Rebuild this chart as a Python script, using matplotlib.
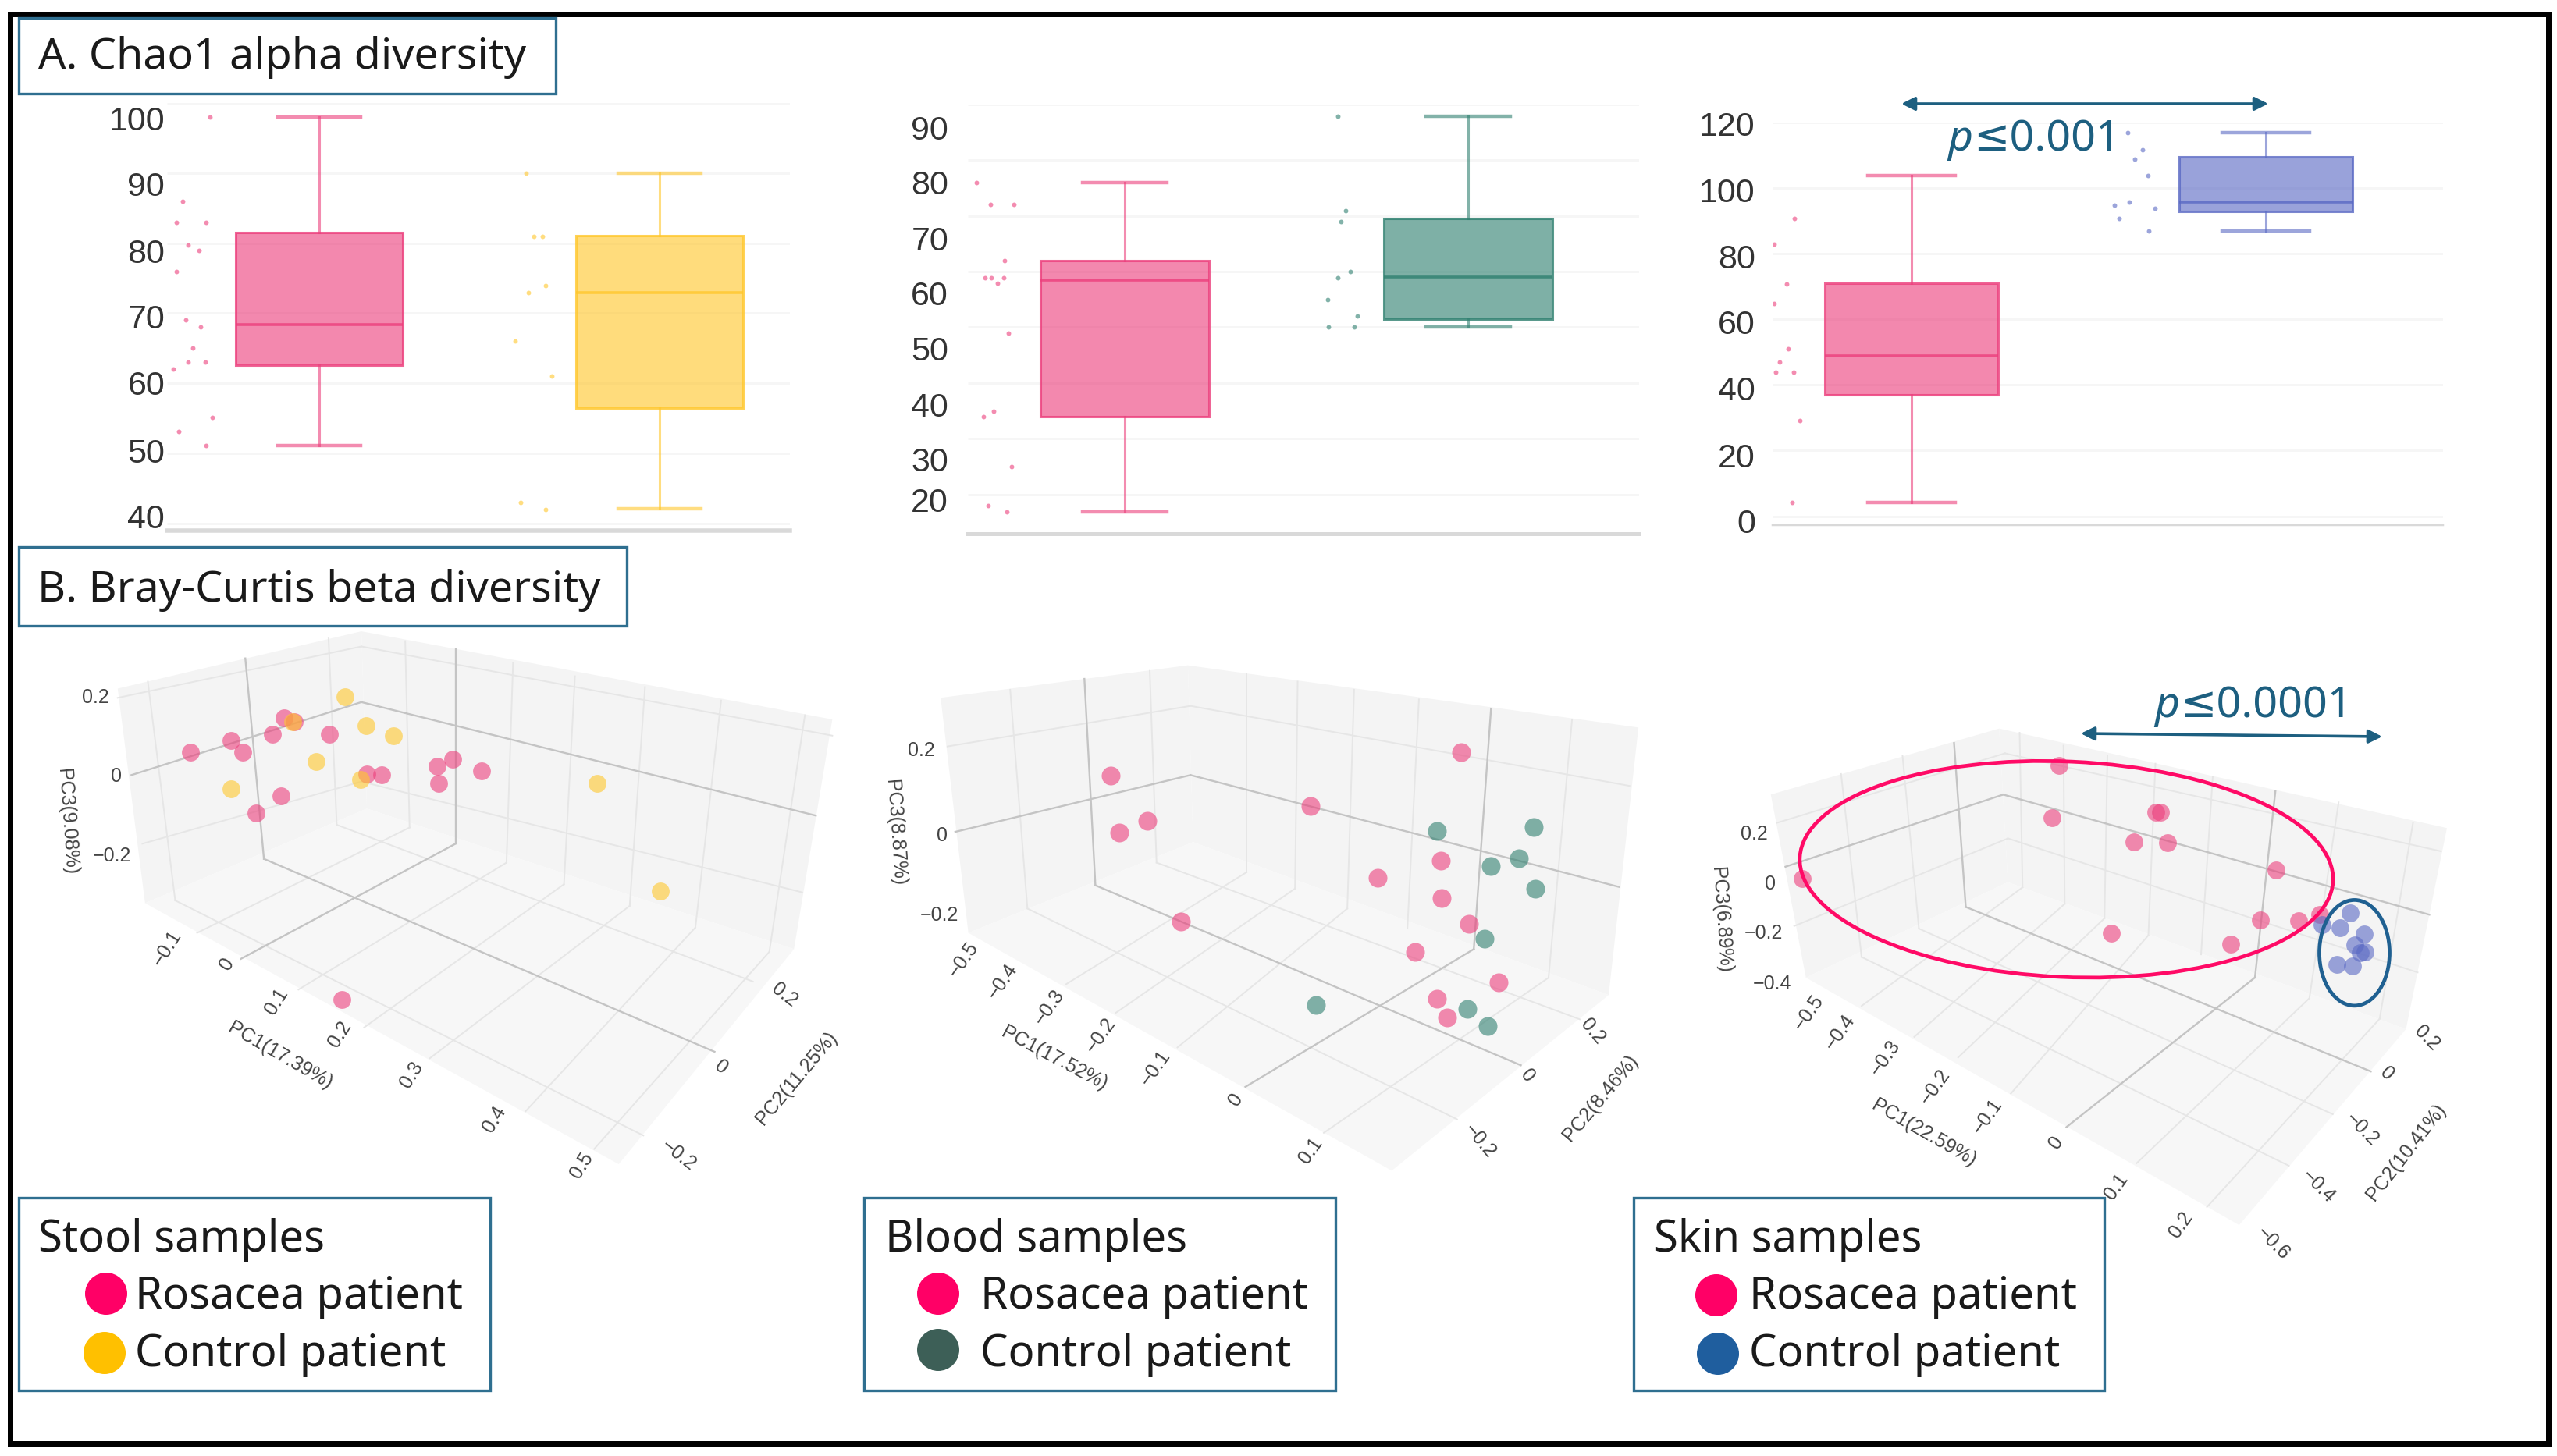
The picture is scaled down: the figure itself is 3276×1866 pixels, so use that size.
import matplotlib
matplotlib.use("Agg")
import matplotlib.pyplot as plt
from matplotlib.colors import to_rgba
from matplotlib.patches import Rectangle, Polygon, Ellipse, Circle

plt.rcParams['font.family'] = ['Noto Sans', 'DejaVu Sans']

W, H = 3276, 1866
PINK, YELLOW, TEAL, BLUE = '#EC3F7C', '#FFC72C', '#2F8070', '#5A69C4'
DARK = '#1D5F80'
BOXLINE = '#2F6F90'

# ---------- A. Chao1 alpha diversity: box statistics (low, q1, median, q3, high) ----------
stool_ros_box = [51.1, 62.6, 68.4, 81.5, 98.0]
stool_ctl_box = [42.1, 56.5, 73.0, 81.1, 90.0]
blood_ros_box = [16.95, 33.9, 58.5, 61.9, 75.9]
blood_ctl_box = [50.0, 51.4, 59.0, 69.5, 87.9]
skin_ros_box = [4.1, 37.1, 48.9, 71.1, 103.8]
skin_ctl_box = [86.9, 93.0, 95.7, 109.6, 116.9]

stool_ros_pts = [98, 86, 83, 83, 79.7, 79, 76, 69, 68, 65, 63, 63, 62, 55.1, 53.1, 51.1]
stool_ros_jit = [-.320, -.401, -.420, -.333, -.386, -.352, -.420, -.391, -.349, -.372, -.385, -.335, -.428, -.315, -.413, -.333]
stool_ctl_pts = [90, 81, 81, 74, 73, 66, 61, 43, 42]
stool_ctl_jit = [.608, .631, .655, .666, .615, .576, .684, .592, .665]
blood_ros_pts = [75.9, 72, 72, 61.9, 58.9, 58.9, 58.9, 57.9, 48.9, 34.9, 33.9, 25, 18, 16.95]
blood_ros_jit = [-.431, -.392, -.322, -.351, -.408, -.388, -.353, -.370, -.338, -.381, -.412, -.330, -.397, -.343]
blood_ctl_pts = [87.9, 70.9, 68.9, 60, 58.9, 54.9, 52, 50, 50]
blood_ctl_jit = [.620, .644, .629, .656, .620, .591, .677, .593, .669]
skin_ros_pts = [90.9, 82.9, 70.9, 64.9, 51, 46.9, 44, 44, 29.2, 4.1]
skin_ros_jit = [-.331, -.387, -.352, -.387, -.348, -.372, -.384, -.333, -.316, -.338]
skin_ctl_pts = [116.9, 111.8, 108.9, 103.8, 94.9, 95.9, 93.9, 90.8, 86.9]
skin_ctl_jit = [.611, .651, .630, .668, .572, .614, .688, .586, .670]

stool_grid = [100, 90, 80, 70, 60, 50, 40]
stool_labels = ['100', '90', '80', '70', '60', '50', '40']
stool_label_pos = [97.8, 88.5, 78.9, 69.5, 60.1, 50.4, 41.1]
blood_grid = [90, 80, 70, 60, 50, 40, 30, 20]
blood_labels = ['90', '80', '70', '60', '50', '40', '30', '20']
blood_label_pos = [85.85, 76, 66, 56.1, 46.2, 36.2, 26.3, 19]
skin_grid = [120, 100, 80, 60, 40, 20, 0]
skin_labels = ['120', '100', '80', '60', '40', '20', '0']
skin_label_pos = [119.7, 99.6, 79.2, 59.3, 39.1, 18.6, -1.4]

# ---------- B. Bray-Curtis beta diversity: projected sample positions per scene ----------
stool_ros_x = [348, 422, 443, 498, 519, 537, 601, 513, 467, 670, 697, 798, 827, 801, 880, 624]
stool_ros_y = [265, 244, 266, 233, 202, 210, 233, 346, 378, 306, 307, 291, 279, 324, 300, 723]
stool_ctl_x = [630, 535, 668, 718, 578, 422, 659, 1090, 1206]
stool_ctl_y = [163, 209, 216, 235, 283, 334, 316, 323, 522]
blood_ros_x = [498, 513, 568, 632, 879, 1008, 1129, 1130, 1182, 1168, 1079, 1239, 1122, 1141]
blood_ros_y = [309, 414, 393, 579, 366, 498, 466, 536, 583, 265, 636, 691, 722, 756]
blood_ctl_x = [1121, 1307, 1278, 1225, 1310, 1213, 1179, 1218, 890]
blood_ctl_y = [412, 404, 462, 477, 519, 611, 741, 773, 733]
skin_ros_x = [717, 705, 883, 891, 845, 903, 1088, 278, 807, 1061, 1127, 1010, 1162]
skin_ros_y = [228, 330, 319, 319, 377, 378, 431, 448, 554, 528, 530, 575, 518]
skin_ctl_x = [1214, 1197, 1238, 1222, 1166, 1240, 1232, 1192, 1218]
skin_ctl_y = [514, 544, 556, 576, 538, 590, 592, 615, 618]

stool_scene = dict(
    rect=(0, 780, 1100, 1086), view=(1568, 1568),
    left=[(215, 148), (660, 42), (670, 370), (265, 545)],
    right=[(660, 42), (1520, 205), (1450, 630), (670, 370)],
    floor=[(265, 545), (670, 370), (1450, 630), (1130, 1028)],
    grid=[((270, 135), (320, 540)), ((600, 55), (615, 400)),
          ((740, 60), (748, 405)), ((937, 100), (925, 470)), ((1050, 125), (1030, 510)),
          ((1178, 145), (1150, 550)), ((1317, 170), (1270, 590)), ((1470, 197), (1405, 635)),
          ((215, 165), (660, 70)), ((660, 70), (1520, 235)), ((260, 435), (660, 320)), ((660, 320), (1465, 525)),
          ((360, 600), (748, 405)), ((545, 705), (925, 470)), ((665, 775), (1030, 510)),
          ((785, 832), (1150, 550)), ((960, 930), (1270, 590)), ((1085, 1000), (1405, 635)),
          ((615, 400), (1375, 690)), ((320, 540), (1175, 975))],
    axes=[((448, 92), (482, 463)), ((482, 463), (1305, 820)), ((832, 75), (832, 435)), ((832, 435), (440, 648)),
          ((240, 308), (660, 173)), ((660, 173), (1490, 383))],
    ticks=['0.2', '0', '\u22120.2', '\u22120.1', '0', '0.1', '0.2', '0.3', '0.4', '0.5', '0.2', '0', '\u22120.2'],
    tick_x=[175, 212, 205, 305, 415, 505, 620, 752, 903, 1062, 1432, 1317, 1240],
    tick_y=[165, 310, 458, 628, 658, 727, 788, 862, 945, 1030, 715, 848, 1012],
    tick_rot=[0, 0, 0, 58, 58, 58, 58, 58, 58, 58, -38, -38, -38],
    names=['PC3(9.08%)', 'PC1(17.39%)', 'PC2(11.25%)'],
    name_x=[122, 512, 1455], name_y=[395, 828, 868], name_rot=[-86, -30, 50],
    size=270, second=YELLOW)

blood_scene = dict(
    rect=(1090, 780, 1050, 1086), view=(1568, 1568),
    left=[(172, 165), (645, 105), (655, 432), (225, 600)],
    right=[(645, 105), (1507, 220), (1450, 715), (655, 432)],
    floor=[(225, 600), (655, 432), (1450, 715), (1035, 1040)],
    grid=[((305, 150), (338, 555)), ((572, 115), (585, 470)),
          ((757, 120), (757, 488)), ((855, 135), (850, 518)), ((963, 150), (950, 555)),
          ((1087, 168), (1065, 592)), ((1380, 205), (1335, 683)),
          ((185, 255), (650, 180)), ((650, 180), (1490, 328)),
          ((412, 695), (757, 488)), ((507, 748), (850, 518)), ((625, 812), (950, 555)),
          ((905, 970), (1335, 683)), ((338, 555), (1160, 945)), ((585, 470), (1395, 760))],
    axes=[((447, 130), (468, 512)), ((1225, 185), (1192, 630)), ((468, 512), (1282, 845)), ((1192, 630), (755, 885)),
          ((200, 413), (650, 308)), ((650, 308), (1470, 515))],
    ticks=['0.2', '0', '\u22120.2', '\u22120.5', '\u22120.4', '\u22120.3', '\u22120.2', '\u22120.1', '0', '0.1', '0.2', '0', '\u22120.2'],
    tick_x=[135, 175, 170, 215, 290, 380, 478, 583, 737, 880, 1420, 1295, 1203],
    tick_y=[263, 420, 568, 650, 690, 738, 790, 850, 908, 1003, 782, 865, 985],
    tick_rot=[0, 0, 0, 55, 55, 55, 55, 55, 55, 55, -50, -50, -50],
    names=['PC3(8.87%)', 'PC1(17.52%)', 'PC2(8.46%)'],
    name_x=[85, 390, 1435], name_y=[415, 832, 905], name_rot=[-86, -28, 50],
    size=300, second=TEAL)

skin_scene = dict(
    rect=(2100, 830, 1176, 1036), view=(1568, 1568),
    left=[(225, 285), (615, 157), (630, 455), (285, 640)],
    right=[(615, 157), (1380, 350), (1310, 740), (630, 455)],
    floor=[(285, 640), (630, 455), (1310, 740), (1025, 1120)],
    grid=[((345, 245), (380, 600)), ((450, 210), (478, 545)),
          ((650, 165), (655, 465)), ((725, 190), (727, 497)), ((800, 210), (795, 525)),
          ((882, 225), (870, 558)), ((980, 250), (960, 595)), ((1195, 300), (1145, 680)), ((1322, 340), (1265, 720)),
          ((235, 340), (625, 205)), ((625, 205), (1370, 395)), ((265, 540), (630, 370)), ((630, 370), (1330, 630)),
          ((380, 695), (655, 465)), ((470, 755), (727, 497)), ((545, 795), (795, 525)), ((635, 865), (870, 558)),
          ((850, 1000), (1145, 680)), ((970, 1085), (1265, 720)),
          ((380, 600), (1110, 1005)), ((478, 545), (1185, 905))],
    axes=[((538, 185), (558, 503)), ((1087, 278), (1052, 640)), ((558, 503), (1250, 822)), ((1052, 640), (730, 930)),
          ((250, 425), (622, 285)), ((622, 285), (1350, 518))],
    ticks=['0.2', '0', '\u22120.2', '\u22120.4', '\u22120.5', '\u22120.4', '\u22120.3', '\u22120.2', '\u22120.1', '0', '0.1', '0.2',
           '0.2', '0', '\u22120.2', '\u22120.4', '\u22120.6'],
    tick_x=[197, 224, 213, 228, 290, 343, 420, 505, 595, 712, 815, 925, 1345, 1277, 1235, 1160, 1083],
    tick_y=[362, 458, 554, 652, 708, 745, 795, 852, 910, 960, 1045, 1120, 757, 827, 935, 1045, 1155],
    tick_rot=[0, 0, 0, 0, 55, 55, 55, 55, 55, 55, 55, 55, -45, -45, -45, -45, -45],
    names=['PC3(6.89%)', 'PC1(22.59%)', 'PC2(10.41%)'],
    name_x=[140, 487, 1310], name_y=[528, 942, 978], name_rot=[-86, -30, 52],
    size=270, second=BLUE)

fig = plt.figure(figsize=(W / 100, H / 100), dpi=100, facecolor='white')


def place(left, top, right, bottom, **kw):
    return fig.add_axes([left / W, 1 - bottom / H, (right - left) / W, (bottom - top) / H], **kw)


def box_panel(px, ylim, xlim, grid, labels, label_pos, spine_px, pad, boxes, strips):
    ax = place(*px)
    ax.patch.set_alpha(0)
    ax.set_xlim(*xlim)
    ax.set_ylim(*ylim)
    for s in ('top', 'left', 'right'):
        ax.spines[s].set_visible(False)
    ax.spines['bottom'].set_color('#d9d9d9')
    ax.spines['bottom'].set_linewidth(spine_px * 0.72)
    ax.set_xticks([])
    ax.set_yticks(label_pos, labels)
    ax.tick_params(axis='y', length=0, pad=pad, labelsize=31, labelcolor='#333333')
    for lab in ax.get_yticklabels():
        lab.set_fontfamily(['Liberation Sans'])
    ax.hlines(grid, *xlim, color='#f6f6f6', lw=2, zorder=0)
    for pos, (st, color) in enumerate(boxes):
        stats = [dict(whislo=st[0], q1=st[1], med=st[2], q3=st[3], whishi=st[4], fliers=[])]
        line = to_rgba(color, 0.8)
        ax.bxp(stats, positions=[pos], widths=0.49, capwidths=0.245, showfliers=False, patch_artist=True,
               manage_ticks=False,
               boxprops=dict(facecolor=to_rgba(color, 0.62), edgecolor=line, linewidth=2.2),
               medianprops=dict(color=line, linewidth=2.6),
               whiskerprops=dict(color=to_rgba(color, 0.6), linewidth=2.2),
               capprops=dict(color=to_rgba(color, 0.6), linewidth=3.2))
    for (jit, vals, color) in strips:
        ax.scatter(jit, vals, s=18, color=color, alpha=0.6, linewidths=0, zorder=3)
    return ax


box_panel((214, 132, 1012, 680), (38.99, 100), (-0.447, 1.383), stool_grid, stool_labels, stool_label_pos, 5.5, 2,
          [(stool_ros_box, PINK), (stool_ctl_box, YELLOW)],
          [(stool_ros_jit, stool_ros_pts, PINK), (stool_ctl_jit, stool_ctl_pts, YELLOW)])
box_panel((1240, 133.6, 2100, 683.6), (13.03, 90), (-0.457, 1.498), blood_grid, blood_labels, blood_label_pos, 5, 18,
          [(blood_ros_box, PINK), (blood_ctl_box, TEAL)],
          [(blood_ros_jit, blood_ros_pts, PINK), (blood_ctl_jit, blood_ctl_pts, TEAL)])
box_panel((2271, 157.3, 3130, 673.3), (-2.8, 120), (-0.392, 1.5), skin_grid, skin_labels, skin_label_pos, 2.5, 16,
          [(skin_ros_box, PINK), (skin_ctl_box, BLUE)],
          [(skin_ros_jit, skin_ros_pts, PINK), (skin_ctl_jit, skin_ctl_pts, BLUE)])


def scene_panel(sc, ros_x, ros_y, ctl_x, ctl_y):
    x0, y0, w, h = sc['rect']
    ax = place(x0, y0, x0 + w, y0 + h)
    ax.patch.set_alpha(0)
    ax.set_xlim(0, sc['view'][0])
    ax.set_ylim(sc['view'][1], 0)
    ax.axis('off')
    ax.add_patch(Polygon(sc['left'], closed=True, fc='#f4f4f4', ec='none', zorder=0))
    ax.add_patch(Polygon(sc['right'], closed=True, fc='#f4f4f4', ec='none', zorder=0))
    ax.add_patch(Polygon(sc['floor'], closed=True, fc='#f7f7f7', ec='none', zorder=0))
    for a, b in sc['grid']:
        ax.plot([a[0], b[0]], [a[1], b[1]], color='#e6e6e6', lw=1.4, zorder=1)
    for a, b in sc['axes']:
        ax.plot([a[0], b[0]], [a[1], b[1]], color='#c4c4c4', lw=1.7, zorder=1)
    for t, x, y, r in zip(sc['ticks'], sc['tick_x'], sc['tick_y'], sc['tick_rot']):
        ax.text(x, y, t, rotation=r, rotation_mode='anchor', ha='center', va='center', fontsize=18,
                color='#444444', family=['Liberation Sans'], zorder=2)
    for t, x, y, r in zip(sc['names'], sc['name_x'], sc['name_y'], sc['name_rot']):
        ax.text(x, y, t, rotation=r, rotation_mode='anchor', ha='center', va='center', fontsize=18,
                color='#444444', family=['Liberation Sans'], zorder=2)
    ax.scatter(ros_x, ros_y, s=sc['size'], color=PINK, alpha=0.6, linewidths=0, zorder=3)
    ax.scatter(ctl_x, ctl_y, s=sc['size'], color=sc['second'], alpha=0.6, linewidths=0, zorder=3)
    return ax


scene_panel(stool_scene, stool_ros_x, stool_ros_y, stool_ctl_x, stool_ctl_y)
scene_panel(blood_scene, blood_ros_x, blood_ros_y, blood_ctl_x, blood_ctl_y)
skin_ax = scene_panel(skin_scene, skin_ros_x, skin_ros_y, skin_ctl_x, skin_ctl_y)
skin_ax.add_patch(Ellipse((730, 430), 912, 418, angle=3, fc='none', ec='#FF0A66', lw=3.4, zorder=4))
skin_ax.add_patch(Ellipse((1222, 592), 120, 205, fc='none', ec='#1F6091', lw=3.4, zorder=4))

# ---------- Page overlay ----------
page = place(0, 0, W, H)
page.set_xlim(0, W)
page.set_ylim(H, 0)
page.axis('off')
page.patch.set_alpha(0)
page.set_zorder(10)

page.add_patch(Rectangle((12.5, 17.5), 3252, 1832, fc='none', ec='black', lw=5.04, joinstyle='miter'))


def label_box(x0, y0, x1, y1):
    page.add_patch(Rectangle((x0, y0), x1 - x0, y1 - y0, fc='white', ec=BOXLINE, lw=2.4, zorder=5))


label_box(24, 23, 712, 120)
page.text(49, 88, 'A. Chao1 alpha diversity', fontsize=40, va='baseline', color='#1a1a1a', zorder=6)
label_box(24, 701, 803, 802)
page.text(48, 771, 'B. Bray-Curtis beta diversity', fontsize=40, va='baseline', color='#1a1a1a', zorder=6)

legend_titles = ['Stool samples', 'Blood samples', 'Skin samples']
legend_rows = ['Rosacea patient', 'Control patient']
legend_colors = ['#FFC000', '#3D5F57', '#1F5E9E']
legend_left = [24, 1107, 2093]
legend_right = [628, 1711, 2696]
legend_title_x = [49, 1134, 2119]
legend_text_x = [173, 1256, 2241]
legend_dot_x = [[136, 134], [1202, 1202], [2199, 2201]]
legend_dot_y = [[1658, 1734], [1658, 1730], [1660, 1735]]
legend_text_y = [1677, 1751]
for i in range(3):
    label_box(legend_left[i], 1535, legend_right[i], 1782)
    page.text(legend_title_x[i], 1604, legend_titles[i], fontsize=40.5, va='baseline', color='#1a1a1a', zorder=6)
    for j, (txt, col) in enumerate(zip(legend_rows, ['#FF0066', legend_colors[i]])):
        page.add_patch(Circle((legend_dot_x[i][j], legend_dot_y[i][j]), 27, fc=col, ec='none', zorder=6))
        page.text(legend_text_x[i], legend_text_y[j], txt, fontsize=40.5, va='baseline', color='#1a1a1a', zorder=6)

for (x0, y0, x1, y1) in [(2436, 133, 2906, 133), (2666, 940, 3052, 944)]:
    page.annotate('', xy=(x1, y1), xytext=(x0, y0), zorder=6,
                  arrowprops=dict(arrowstyle='<|-|>', color=DARK, lw=2.6, mutation_scale=26, shrinkA=0, shrinkB=0))

for (x_p, y_p, tail) in [(2495, 193, '≤0.001'), (2760, 919, '≤0.0001')]:
    page.text(x_p, y_p, 'p', fontsize=40, style='italic', color=DARK, ha='left', va='baseline', zorder=6)
    page.text(x_p + 33, y_p, tail, fontsize=40, color=DARK, ha='left', va='baseline', zorder=6)

fig.savefig('out.png', dpi=100)
